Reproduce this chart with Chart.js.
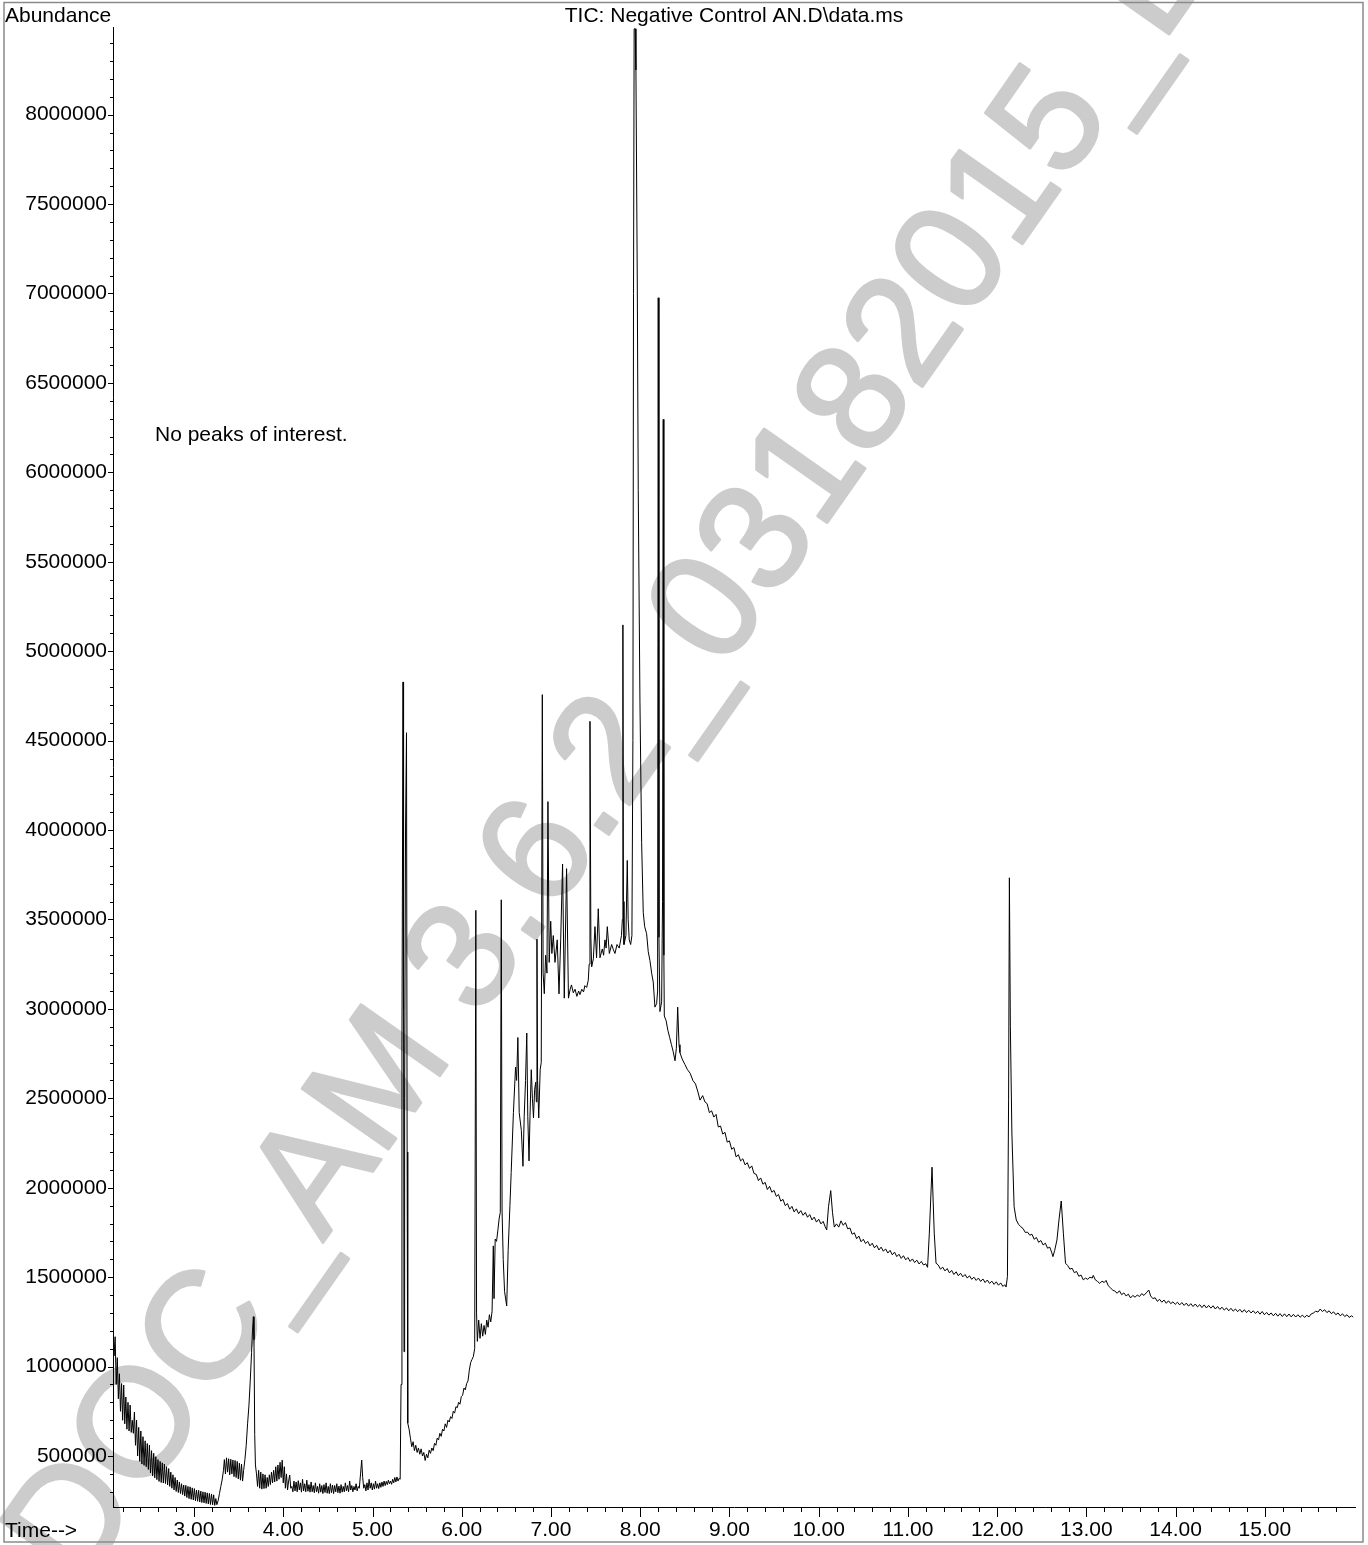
<!DOCTYPE html>
<html><head><meta charset="utf-8">
<style>html,body{margin:0;padding:0;background:#fff;}canvas{display:block;}</style>
<script src="https://cdn.jsdelivr.net/npm/chart.js@4.4.1/dist/chart.umd.min.js"></script>
</head><body>
<canvas id="c" width="1368" height="1545"></canvas>
<script>
// ---- Retention time (min) and abundance (thousands) by region ----
const timeEarly = [
2.092,2.104,2.116,2.128,2.140,2.152,2.164,2.176,2.188,2.200,
2.212,2.224,2.236,2.248,2.260,2.272,2.284,2.296,2.308,2.320,
2.332,2.344,2.356,2.368,2.380,2.392,2.404,2.416,2.428,2.440,
2.452,2.464,2.476,2.488,2.500,2.512,2.524,2.536,2.548,2.560,
2.572,2.584,2.596,2.608,2.620,2.632,2.644,2.656,2.668,2.680,
2.692,2.704,2.716,2.728,2.740,2.752,2.764,2.776,2.788,2.800,
2.812,2.824,2.836,2.848,2.860,2.872,2.884,2.896,2.908,2.920,
2.932,2.944,2.956,2.968,2.980,2.992,3.004,3.016,3.028,3.040,
3.052,3.064,3.076,3.088,3.100,3.112,3.124,3.136,3.148,3.160,
3.172,3.184,3.196,3.208,3.220,3.232,3.244,3.256,
3.270,3.285,3.300,3.315,3.330,
3.340,3.352,3.364,3.376,3.388,3.400,3.412,3.424,3.436,3.448,3.460,3.472,3.484,3.496,3.508,3.520,3.532,3.544,3.556,
3.570,3.585,3.600,3.615,3.630,3.645,3.655,3.665,3.672,3.680,3.688];
const abundEarlyK = [
1251,1060,1167,900,1050,820,960,750,905,700,
897,680,830,650,800,640,785,632,700,627,
745,560,701,500,660,470,640,455,608,448,
585,440,570,425,561,405,530,388,515,378,
496,368,480,358,470,352,462,349,455,346,
440,338,430,330,410,320,395,310,380,302,
366,296,355,290,345,284,338,276,336,268,
330,262,328,258,322,254,318,250,310,247,
308,243,304,240,300,238,298,235,294,232,
291,229,288,227,283,224,262,228,
250,290,330,366,420,
480,400,490,410,485,395,482,400,478,385,475,380,470,372,460,365,455,360,420,
480,560,680,780,920,1080,1200,1279,1150,620,450];

const timeMid = [
3.700,3.712,3.724,3.736,3.748,3.760,3.772,3.784,3.796,3.808,
3.820,3.832,3.844,3.856,3.868,3.880,3.892,3.904,3.916,3.928,
3.940,3.952,3.964,3.976,3.988,4.000,4.012,4.024,4.036,4.048,
4.060,4.072,4.084,4.096,4.108,4.120,4.132,4.144,4.156,4.168,
4.180,4.192,4.204,4.216,4.228,4.240,4.252,4.264,4.276,4.288,
4.300,4.312,4.324,4.336,4.348,4.360,4.372,4.384,4.396,4.408,
4.420,4.432,4.444,4.456,4.468,4.480,4.492,4.504,4.516,4.528,
4.540,4.552,4.564,4.576,4.588,4.600,4.612,4.624,4.636,4.648,
4.660,4.672,4.684,4.696,4.708,4.720,4.732,4.744,4.756,4.768,
4.780,4.792,4.804,4.816,4.828,4.840,4.852,4.866,4.879,4.890,
4.902,4.914,4.926,4.938,4.950,4.962,4.974,4.986,4.998,5.010,
5.022,5.034,5.046,5.058,5.070,5.082,5.094,5.106,5.118,5.130,
5.142,5.154,5.166,5.178,5.190,5.202,5.214,5.226,5.238,5.250,
5.262,5.274,5.286,5.298,5.310];
const abundMidK = [
400,330,420,320,410,315,400,318,395,320,
380,330,395,340,410,350,420,355,440,360,
450,370,465,380,477,350,440,320,400,310,
360,394,320,330,300,360,305,355,300,362,
310,350,298,370,305,345,300,365,303,340,
298,355,300,335,295,350,300,330,292,345,
298,335,290,340,296,350,292,330,290,345,
295,338,290,335,300,345,295,332,292,340,
298,330,300,350,305,335,300,360,310,335,
300,330,310,345,305,330,320,400,477,380,
320,340,305,350,310,370,320,350,310,345,
315,360,320,345,318,350,325,355,330,360,
335,358,340,365,345,360,342,370,350,380,
355,383,360,375,370];

const timeRise = [
5.320,5.330,5.342,5.348,5.353,5.360,5.370,5.381,5.388,5.395,
5.410,5.425,5.440,5.455,5.470,5.485,5.500,5.515,5.530,5.545,
5.560,5.575,5.590,5.605,5.620,5.635,5.650,5.665,5.680,5.695,
5.710,5.725,5.740,5.755,5.770,5.785,5.800,5.815,5.830,5.845,
5.860,5.875,5.890,5.905,5.920,5.935,5.950,5.965,5.980,5.995,
6.010,6.025,6.040,6.055,6.070,6.085,6.100,6.115,6.130,6.145,
6.158,6.166,6.175,6.190,6.205,6.220,6.235,6.250,6.265,6.280,
6.295,6.310,6.325,6.340,6.354,6.362,6.375,6.390,6.405,6.420,
6.432,6.443,6.452,6.465,6.480,6.504,6.520,6.540,6.554,6.579,
6.603,6.615,6.629,6.644,6.668,6.686,6.700,6.715,6.729,6.740,
6.754,6.765,6.779,6.792,6.804,6.817,6.829,6.836,6.843,6.850,
6.863,6.879,6.891];
const abundRiseK = [
900,2800,4828,3000,1083,2500,4000,4544,2200,684,
650,600,552,580,530,560,520,545,510,540,
500,520,475,510,490,533,515,545,530,571,
560,600,590,627,610,650,640,680,660,700,
690,720,710,750,740,776,770,800,790,832,
840,880,870,905,920,980,1023,1040,1056,1100,
3551,1300,1141,1260,1158,1240,1170,1230,1180,1260,
1220,1290,1250,1310,1675,1380,1713,1700,1763,1830,
1862,3610,1870,1600,1420,1339,1650,1900,2085,2420,
2675,2600,2840,2420,2320,2120,2400,2600,2865,2400,
2150,2400,2660,2500,2390,2550,2590,2480,3390,2600,
2390,2660,2700];

const timeMain = [
6.903,6.912,6.925,6.940,6.955,6.966,6.980,6.997,7.010,7.026,
7.045,7.070,7.090,7.109,7.130,7.149,7.175,7.196,7.215,7.230,
7.250,7.270,7.290,7.310,7.325,7.345,7.365,7.380,7.400,7.418,
7.428,7.437,7.447,7.456,7.475,7.493,7.511,7.530,7.549,7.575,
7.590,7.605,7.618,7.631,7.654,7.680,7.700,7.717,7.740,7.765,
7.790,7.800,7.806,7.812,7.818,7.840,7.855,7.865,7.877,7.893,
7.907,7.918,7.925,7.932,7.944,7.952,7.967,7.978,7.997,8.016,
8.034,8.050,8.072,8.090,8.109,8.128,8.146,8.165,8.184,8.195,
8.202,8.210,8.221,8.240,8.250,8.258,8.265,8.270,8.290,8.310,
8.330,8.350,8.370,8.390,8.405,8.420,8.435,8.445,8.470,8.500,
8.530,8.560,8.590,8.620,8.650,8.670];
const abundMainK = [
4757,3200,3085,3300,3200,4159,3260,3490,3310,3410,
3260,3386,3084,3386,3810,3060,3784,3060,3110,3134,
3090,3110,3070,3100,3080,3110,3095,3130,3120,3160,
3250,4608,3400,3235,3280,3460,3286,3560,3286,3335,
3300,3386,3340,3460,3310,3360,3330,3310,3360,3340,
3410,3500,5147,3600,3360,3410,3830,3500,3386,3360,
3410,4500,7000,8480,8480,8250,7070,5900,4720,3930,
3540,3460,3420,3320,3270,3200,3150,3010,3030,3100,
6976,3400,2985,3040,3600,6296,3300,2960,2935,2880,
2840,2800,2760,2710,2780,3010,2800,2756,2720,2690,
2660,2640,2600,2580,2530,2490];

const timeTail = [
8.700,8.725,8.750,8.775,8.800,8.825,8.850,8.875,8.900,8.925,
8.950,8.975,9.000,9.025,9.050,9.075,9.100,9.125,9.150,9.175,
9.200,9.225,9.250,9.275,9.300,9.325,9.350,9.375,9.400,9.425,
9.450,9.475,9.500,9.525,9.550,9.575,9.600,9.625,9.650,9.675,
9.700,9.725,9.750,9.775,9.800,9.825,9.850,9.875,9.900,9.925,
9.950,9.975,10.000,10.025,10.050,10.070,10.090,10.110,10.135,10.155,
10.175,10.200,10.225,10.250,10.275,10.300,10.325,10.350,10.375,10.400,
10.425,10.450,10.475,10.500,10.525,10.550,10.575,10.600,10.625,10.650,
10.675,10.700,10.725,10.750,10.775,10.800,10.825,10.850,10.875,10.900,
10.925,10.950,10.975,11.000,11.025,11.050,11.075,11.100,11.125,11.150,
11.175,11.200,11.220,11.240,11.270,11.295,11.315,11.340,11.365,11.390,
11.415,11.440,11.465,11.490,11.515,11.540,11.565,11.590,11.615,11.640,
11.665,11.690,11.715,11.740,11.765,11.790,11.815,11.840,11.865,11.890,
11.915,11.940,11.965,11.990,12.015,12.040,12.065,12.085,12.100,12.115,
12.128,12.137,12.148,12.165,12.190,12.214,12.240,12.265,12.290,12.315,
12.340,12.365,12.390,12.415,12.440,12.465,12.490,12.515,12.540,12.565,
12.590,12.610,12.625,12.645,12.670,12.695,12.718,12.742,12.766,12.790,
12.815,12.840,12.865,12.890,12.915,12.940,12.965,12.990,13.015,13.040,
13.065,13.077,13.100,13.125,13.150,13.175,13.200,13.220,13.245,13.270,
13.295,13.320,13.345,13.370,13.395,13.420,13.445,13.470,13.495,13.520,
13.545,13.570,13.595,13.620,13.645,13.670,13.699,13.720,13.745,13.770,
13.795,13.820,13.845,13.870,13.895,13.920,13.945,13.970,13.995,14.020,
14.045,14.070,14.095,14.120,14.145,14.170,14.195,14.220,14.245,14.270,
14.295,14.320,14.345,14.370,14.395,14.420,14.445,14.470,14.495,14.520,
14.545,14.570,14.595,14.620,14.645,14.670,14.695,14.720,14.745,14.770,
14.795,14.820,14.845,14.870,14.895,14.920,14.945,14.970,14.995,15.020,
15.045,15.070,15.095,15.120,15.145,15.170,15.195,15.220,15.245,15.270,
15.295,15.320,15.345,15.370,15.395,15.420,15.445,15.470,15.495,15.520,
15.545,15.570,15.595,15.620,15.645,15.670,15.695,15.720,15.745,15.770,
15.795,15.820,15.845,15.870,15.895,15.920,15.945,15.970,15.990];
const abundTailK = [
2515,2480,2470,2420,2430,2395,2410,2340,2345,2300,
2310,2255,2262,2215,2225,2172,2185,2150,2162,2128,
2140,2108,2122,2080,2075,2040,2055,2020,2030,1990,
2008,1975,1985,1952,1962,1925,1935,1900,1912,1880,
1896,1865,1882,1855,1872,1846,1862,1835,1850,1820,
1836,1808,1824,1798,1812,1785,1764,1894,1984,1860,
1780,1798,1780,1815,1790,1805,1770,1775,1740,1748,
1715,1730,1698,1712,1688,1700,1675,1690,1664,1678,
1652,1668,1645,1658,1635,1650,1625,1640,1615,1628,
1605,1620,1597,1610,1588,1602,1582,1595,1574,1588,
1568,1575,1555,1746,2115,1746,1578,1568,1545,1556,
1535,1548,1524,1538,1515,1530,1508,1522,1502,1515,
1495,1508,1488,1500,1482,1495,1476,1490,1470,1484,
1465,1478,1460,1474,1455,1468,1448,1458,1445,1503,
2490,3733,2900,2306,1894,1820,1795,1782,1772,1750,
1752,1735,1740,1712,1722,1695,1705,1680,1690,1662,
1668,1640,1615,1650,1708,1830,1926,1746,1578,1565,
1545,1550,1525,1532,1505,1512,1485,1495,1488,1500,
1495,1510,1485,1476,1465,1478,1470,1482,1452,1440,
1428,1422,1410,1424,1402,1412,1395,1405,1384,1398,
1388,1400,1392,1408,1398,1412,1428,1395,1380,1385,
1365,1376,1360,1372,1354,1368,1352,1362,1348,1360,
1345,1358,1342,1355,1338,1352,1336,1350,1334,1346,
1330,1345,1328,1342,1327,1340,1322,1336,1320,1332,
1316,1328,1312,1326,1310,1322,1307,1320,1304,1318,
1302,1315,1300,1312,1297,1310,1293,1308,1290,1303,
1288,1300,1284,1298,1282,1296,1280,1295,1279,1294,
1278,1292,1277,1290,1276,1288,1275,1287,1278,1295,
1300,1310,1305,1322,1308,1318,1302,1312,1296,1306,
1290,1300,1284,1295,1280,1290,1275,1284,1277];

// ---- Axis definitions ----
const xLabelTicks = [3,4,5,6,7,8,9,10,11,12,13,14,15];
const yLabelTicks = [500000,1000000,1500000,2000000,2500000,3000000,3500000,4000000,4500000,5000000,5500000,6000000,6500000,7000000,7500000,8000000];
const xRange = [2.092, 16.01];
const yRange = [215000, 8490000];
const xMinorStep = 0.2, yMinorStep = 100000;

const titleText = 'TIC: Negative Control AN.D\\data.ms';
const yAxisTitle = 'Abundance';
const xAxisTitle = 'Time-->';
const noteText = 'No peaks of interest.';
const watermarkText = 'DOC_AM 3.6.2_03182015_D';

const FONT = '"Liberation Sans", Arial, Helvetica, sans-serif';

function build(ts, vs) { return ts.map((t, i) => ({ x: t, y: vs[i] * 1000 })); }
const points = [].concat(
  build(timeEarly, abundEarlyK), build(timeMid, abundMidK), build(timeRise, abundRiseK),
  build(timeMain, abundMainK), build(timeTail, abundTailK));

const decor = {
  id: 'decor',
  beforeDraw(chart) {
    const ctx = chart.ctx;
    ctx.save();
    ctx.fillStyle = '#fff';
    ctx.fillRect(0, 0, chart.width, chart.height);
    ctx.translate(79, 1591);
    ctx.rotate(-55 * Math.PI / 180);
    ctx.font = '153px ' + FONT;
    ctx.fillStyle = '#cccccc';
    ctx.strokeStyle = '#cccccc';
    ctx.lineWidth = 3;
    ctx.lineJoin = 'round';
    ctx.textBaseline = 'alphabetic';
    ctx.textAlign = 'left';
    ctx.fillText(watermarkText, 0, 0);
    ctx.strokeText(watermarkText, 0, 0);
    ctx.restore();
  },
  afterDraw(chart) {
    const ctx = chart.ctx, xs = chart.scales.x, ys = chart.scales.y, ca = chart.chartArea;
    ctx.save();
    ctx.strokeStyle = '#000';
    ctx.lineWidth = 1;
    ctx.beginPath();
    const nx0 = Math.ceil(xRange[0] / xMinorStep), nx1 = Math.floor((xRange[1] - 0.1) / xMinorStep);
    for (let k = nx0; k <= nx1; k++) {
      const v = k * xMinorStep;
      const major = Math.abs(v - Math.round(v)) < 1e-6;
      const px = Math.round(xs.getPixelForValue(v)) + 0.5;
      ctx.moveTo(px, ca.bottom);
      ctx.lineTo(px, ca.bottom + (major ? 10 : 5));
    }
    const ny0 = Math.ceil(yRange[0] / yMinorStep), ny1 = Math.floor(yRange[1] / yMinorStep);
    for (let k = ny0; k <= ny1; k++) {
      const v = k * yMinorStep;
      const major = v % 500000 === 0;
      const py = Math.round(ys.getPixelForValue(v)) + 0.5;
      ctx.moveTo(ca.left, py);
      ctx.lineTo(ca.left - (major ? 5 : 3), py);
    }
    ctx.stroke();
    ctx.fillStyle = '#000';
    ctx.font = '21px ' + FONT;
    ctx.textBaseline = 'alphabetic';
    ctx.textAlign = 'left';
    ctx.fillText(yAxisTitle, 5, 22);
    ctx.fillText(xAxisTitle, 5, 1537);
    ctx.fillText(noteText, 155, 441);
    ctx.textAlign = 'center';
    ctx.fillText(titleText, (ca.left + ca.right) / 2, 22);
    ctx.strokeStyle = '#8a8a8a';
    ctx.lineWidth = 1.5;
    ctx.strokeRect(4, 2.5, 1359, 1539.5);
    ctx.restore();
  }
};

new Chart(document.getElementById('c'), {
  type: 'line',
  data: { datasets: [{ data: points, borderColor: '#000', borderWidth: 1, pointRadius: 0, tension: 0, fill: false }] },
  options: {
    responsive: false, animation: false, parsing: false, normalized: true, events: [],
    layout: { padding: { top: 27, right: 13, left: 0, bottom: 0 } },
    plugins: { legend: { display: false }, tooltip: { enabled: false }, title: { display: false } },
    scales: {
      x: {
        type: 'linear', min: xRange[0], max: xRange[1],
        afterFit: s => { s.height = 38; },
        afterBuildTicks: s => { s.ticks = xLabelTicks.map(v => ({ value: v })); },
        grid: { display: false, drawTicks: false },
        border: { display: true, color: '#000', width: 1 },
        ticks: { color: '#000', font: { family: FONT, size: 21 }, padding: 11, maxRotation: 0, autoSkip: false,
                 callback: v => Number(v).toFixed(2) }
      },
      y: {
        type: 'linear', min: yRange[0], max: yRange[1],
        afterFit: s => { s.width = 113; },
        afterBuildTicks: s => { s.ticks = yLabelTicks.map(v => ({ value: v })); },
        grid: { display: false, drawTicks: false },
        border: { display: true, color: '#000', width: 1 },
        ticks: { color: '#000', font: { family: FONT, size: 21 }, padding: 6, autoSkip: false,
                 callback: v => String(v) }
      }
    }
  },
  plugins: [decor]
});
</script>
</body></html>
